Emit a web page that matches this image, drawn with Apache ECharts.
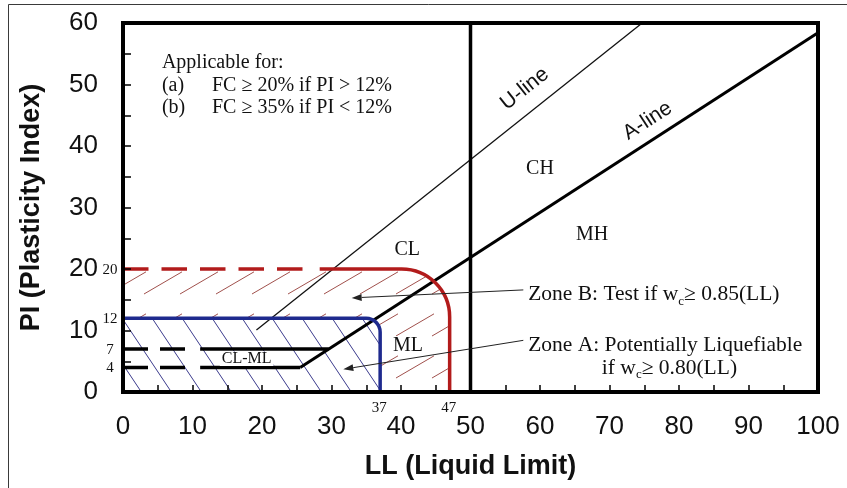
<!DOCTYPE html>
<html>
<head>
<meta charset="utf-8">
<title>Plasticity chart – liquefaction susceptibility zones</title>
<script src="https://cdn.jsdelivr.net/npm/echarts@6.0.0/dist/echarts.min.js"></script>
<style>
  html, body { margin: 0; padding: 0; background: #fff; }
  #chart { width: 847px; height: 488px; }
</style>
</head>
<body>
<div id="chart"></div>
<script>
// ---------- values: (LL, PI) pairs ----------
const llRange = [0, 100];
const piRange = [0, 60];
const aLine = [[25.5, 4], [100, 58.4]];
const uLine = [[19.2, 10.1], [74.7, 60]];
const llDivide = [[50, 0], [50, 60]];
const clmlTopDash = [[0, 7], [9.2, 7]];
const clmlTop = [[11.1, 7], [29.6, 7]];
const clmlBottomDash = [[0, 4], [9.2, 4]];
const clmlBottom = [[11.1, 4], [25.5, 4]];
const zoneBDash = [[0, 20], [25.9, 20]];
const zoneBEdge = [[28.3, 20], [47, 20], [47, 0]];
const zoneAEdge = [[0, 12], [37, 12], [37, 0]];
const zoneBArea = [[0, 0], [0, 20], [47, 20], [47, 0]];
const zoneAArea = [[0, 0], [0, 12], [37, 12], [37, 0]];
const piMarks = [20, 12, 7, 4];
const llMarks = [37, 47];

// ---------- annotation text ----------
const SERIF = '"Liberation Serif", "Times New Roman", serif';
const SANS = '"Liberation Sans", Arial, sans-serif';
const textStyles = {
  body: { size: 20, family: SERIF },
  zone: { size: 21.5, family: SERIF },
  soil: { size: 20, family: SERIF },
  dual: { size: 16, family: SERIF },
  mark: { size: 15, family: SERIF },
  line: { size: 21, family: SANS }
};
// parts at odd positions are set as subscripts
const notes = [
  { parts: ['Applicable for:'], at: [5.6, 53.5], style: 'body', align: 'left' },
  { parts: ['(a)'], at: [5.6, 49.8], style: 'body', align: 'left' },
  { parts: ['FC ≥ 20% if PI > 12%'], at: [12.8, 49.8], style: 'body', align: 'left' },
  { parts: ['(b)'], at: [5.6, 46.3], style: 'body', align: 'left' },
  { parts: ['FC ≥ 35% if PI < 12%'], at: [12.8, 46.3], style: 'body', align: 'left' },
  { parts: ['U-line'], at: [57.8, 49.3], style: 'line', rotate: 38.5 },
  { parts: ['A-line'], at: [75.5, 44.1], style: 'line', rotate: 33 },
  { parts: ['CH'], at: [60, 36.3], style: 'soil' },
  { parts: ['MH'], at: [67.5, 25.5], style: 'soil' },
  { parts: ['CL'], at: [40.9, 23.1], style: 'soil' },
  { parts: ['ML'], at: [41.0, 7.6], style: 'soil', bg: true },
  { parts: ['CL-ML'], at: [17.8, 5.4], style: 'dual', bg: true },
  { parts: ['Zone B: Test if w', 'c', '≥ 0.85(LL)'], at: [58.3, 15.8], style: 'zone', align: 'left' },
  { parts: ['Zone A: Potentially Liquefiable'], at: [58.3, 7.6], style: 'zone', align: 'left' },
  { parts: ['if w', 'c', '≥ 0.80(LL)'], at: [68.9, 3.9], style: 'zone', align: 'left' }
];
const arrows = [
  { from: [57.6, 16.6], to: [32.9, 15.3] },
  { from: [57.6, 8.4], to: [31.7, 3.7] }
];

// ---------- helpers ----------
const measureCtx = document.createElement('canvas').getContext('2d');
function textWidth(str, font) { measureCtx.font = font; return measureCtx.measureText(str).width; }

// Repeating hatch tiles used as fills
function redHatch() {
  const W = 72, H = 42, D = Math.hypot(W, H);
  const c = document.createElement('canvas');
  c.width = W; c.height = H;
  const g = c.getContext('2d');
  g.strokeStyle = '#a0504c';
  g.lineWidth = 1;
  g.setLineDash([44, D - 44]);
  for (let k = -2; k <= 6; k++) {
    const off = k * H / 2;
    g.lineDashOffset = (Math.abs(k) % 2) ? D / 2 : 0;
    g.beginPath();
    g.moveTo(0, off);
    g.lineTo(W, off - H);
    g.stroke();
  }
  return { image: c, repeat: 'repeat' };
}
function blueHatch() {
  const W = 30, H = 45;
  const c = document.createElement('canvas');
  c.width = W; c.height = H;
  const g = c.getContext('2d');
  g.fillStyle = '#ffffff';
  g.fillRect(0, 0, W, H);
  g.strokeStyle = '#3a3a8c';
  g.lineWidth = 1;
  for (let k = -1; k <= 1; k++) {
    g.beginPath();
    g.moveTo(k * W, 0);
    g.lineTo((k + 1) * W, H);
    g.stroke();
  }
  return { image: c, repeat: 'repeat' };
}

// SVG path through pixel points, rounding the vertex at cornerIdx with radius r
function roundedPath(pts, cornerIdx, r, close) {
  const k = 0.5523;
  let d = '';
  pts.forEach((p, i) => {
    const cmd = i === 0 ? 'M' : 'L';
    if (i === cornerIdx) {
      const a = pts[i - 1], b = pts[(i + 1) % pts.length];
      const l1 = Math.hypot(p[0] - a[0], p[1] - a[1]);
      const l2 = Math.hypot(b[0] - p[0], b[1] - p[1]);
      const d1 = [(p[0] - a[0]) / l1, (p[1] - a[1]) / l1];
      const d2 = [(b[0] - p[0]) / l2, (b[1] - p[1]) / l2];
      const s = [p[0] - d1[0] * r, p[1] - d1[1] * r];
      const e = [p[0] + d2[0] * r, p[1] + d2[1] * r];
      const c1 = [s[0] + d1[0] * r * k, s[1] + d1[1] * r * k];
      const c2 = [e[0] - d2[0] * r * k, e[1] - d2[1] * r * k];
      d += `${cmd}${s[0]} ${s[1]} C${c1[0]} ${c1[1]} ${c2[0]} ${c2[1]} ${e[0]} ${e[1]} `;
    } else {
      d += `${cmd}${p[0]} ${p[1]} `;
    }
  });
  return close ? d + 'Z' : d;
}

function shapeSeries(name, points, corner, radius, close, style, z) {
  return {
    name, type: 'custom', coordinateSystem: 'cartesian2d', silent: true, z,
    data: [points[0]],
    renderItem(params, api) {
      const px = points.map(p => api.coord(p));
      return { type: 'path', shape: { pathData: roundedPath(px, corner, radius, close) }, style };
    }
  };
}

function lineSeries(name, data, color, width, dash, z) {
  return {
    name, type: 'line', data, silent: true, z,
    symbol: 'none', showSymbol: false,
    lineStyle: { color, width, type: dash || 'solid', cap: 'butt' }
  };
}

function textEl(text, x, y, font, align, fill) {
  return {
    type: 'text', x, y,
    style: {
      text, font, fill: fill || '#111',
      align: align, verticalAlign: 'middle',
      textAlign: align, textVerticalAlign: 'middle'
    }
  };
}

function noteElement(note, api) {
  const st = textStyles[note.style];
  const font = `${st.size}px ${st.family}`;
  const subFont = `${Math.round(st.size * 0.62)}px ${st.family}`;
  const p = api.coord(note.at);
  const widths = note.parts.map((s, i) => textWidth(s, i % 2 ? subFont : font));
  const total = widths.reduce((a, b) => a + b, 0);
  let x = note.align === 'left' ? 0 : -total / 2;
  const children = [];
  if (note.bg) {
    children.push({ type: 'rect', shape: { x: x - 2, y: -st.size * 0.45, width: total + 4, height: st.size * 0.9 }, style: { fill: '#fff' } });
  }
  note.parts.forEach((s, i) => {
    children.push(textEl(s, x, i % 2 ? st.size * 0.3 : 0, i % 2 ? subFont : font, 'left'));
    x += widths[i];
  });
  return { type: 'group', x: p[0], y: p[1], rotation: (note.rotate || 0) * Math.PI / 180, children };
}

function arrowElement(a, api) {
  const p0 = api.coord(a.from), p1 = api.coord(a.to);
  const dx = p1[0] - p0[0], dy = p1[1] - p0[1], len = Math.hypot(dx, dy);
  const ux = dx / len, uy = dy / len;
  const hl = 10, hw = 3.5;
  const base = [p1[0] - ux * hl, p1[1] - uy * hl];
  return {
    type: 'group', children: [
      { type: 'line', shape: { x1: p0[0], y1: p0[1], x2: base[0], y2: base[1] }, style: { stroke: '#222', lineWidth: 1 } },
      { type: 'polygon', shape: { points: [p1, [base[0] - uy * hw, base[1] + ux * hw], [base[0] + uy * hw, base[1] - ux * hw]] }, style: { fill: '#222' } }
    ]
  };
}

// ---------- chart ----------
const RED = '#b21b1b';
const BLUE = '#1e2a8e';
const tickFont = { fontFamily: SANS, fontSize: 26, color: '#111' };
const titleFont = { fontFamily: SANS, fontSize: 27, fontWeight: 'bold', color: '#111' };
const frameLine = { show: true, onZero: false, lineStyle: { color: '#000', width: 4, cap: 'square' } };

const chart = echarts.init(document.getElementById('chart'), null, { renderer: 'canvas' });

chart.setOption({
  animation: false,
  backgroundColor: '#fff',
  grid: { left: 123, right: 29, top: 23, bottom: 96 },
  graphic: [{
    type: 'rect', silent: true,
    shape: { x: 8.5, y: 4.5, width: 900, height: 600 },
    style: { fill: 'none', stroke: '#3a3a3a', lineWidth: 1 }
  }],
  xAxis: [{
    type: 'value', min: llRange[0], max: llRange[1], interval: 10, position: 'bottom', z: 10,
    name: 'LL (Liquid Limit)', nameLocation: 'middle', nameGap: 61, nameTextStyle: titleFont,
    axisLine: frameLine,
    axisTick: { show: true, inside: true, length: 7, lineStyle: { color: '#000', width: 1.5 } },
    minorTick: { show: true, splitNumber: 2, length: 7, lineStyle: { color: '#000', width: 1.5 } },
    axisLabel: Object.assign({ margin: 22 }, tickFont),
    splitLine: { show: false }, minorSplitLine: { show: false }
  }, {
    type: 'value', min: llRange[0], max: llRange[1], position: 'top', z: 10,
    axisLine: frameLine, axisTick: { show: false }, axisLabel: { show: false }, splitLine: { show: false }
  }],
  yAxis: [{
    type: 'value', min: piRange[0], max: piRange[1], interval: 10, position: 'left', z: 10,
    name: 'PI (Plasticity Index)', nameLocation: 'middle', nameGap: 78, nameTextStyle: titleFont,
    axisLine: frameLine,
    axisTick: { show: true, inside: true, length: 8, lineStyle: { color: '#000', width: 1.5 } },
    minorTick: { show: true, splitNumber: 2, length: 8, lineStyle: { color: '#000', width: 1.5 } },
    axisLabel: Object.assign({ margin: 25 }, tickFont),
    splitLine: { show: false }, minorSplitLine: { show: false }
  }, {
    type: 'value', min: piRange[0], max: piRange[1], position: 'right', z: 10,
    axisLine: frameLine, axisTick: { show: false }, axisLabel: { show: false }, splitLine: { show: false }
  }],
  series: [
    // hatched zones
    shapeSeries('zoneBFill', zoneBArea, 2, 48, true, { fill: redHatch(), stroke: null }, 1),
    shapeSeries('zoneAFill', zoneAArea, 2, 14, true, { fill: blueHatch(), stroke: null }, 1),

    // classification lines
    lineSeries('U-line', uLine, '#111', 1.3, null, 3),
    lineSeries('A-line', aLine, '#000', 3, null, 3),
    lineSeries('LL50', llDivide, '#000', 3.5, null, 3),
    lineSeries('PI7dash', clmlTopDash, '#000', 3.5, [25, 12], 3),
    lineSeries('PI7', clmlTop, '#000', 3.5, null, 3),
    lineSeries('PI4dash', clmlBottomDash, '#000', 3.5, [25, 12], 3),
    lineSeries('PI4', clmlBottom, '#000', 3.5, null, 3),

    // zone boundaries
    lineSeries('zoneBDash', zoneBDash, RED, 3.5, [25.5, 13], 4),
    shapeSeries('zoneBEdge', zoneBEdge, 1, 48, false, { fill: null, stroke: RED, lineWidth: 3.5 }, 4),
    shapeSeries('zoneAEdge', zoneAEdge, 1, 14, false, { fill: null, stroke: BLUE, lineWidth: 3.5 }, 4),

    // arrows and text
    {
      name: 'arrows', type: 'custom', coordinateSystem: 'cartesian2d', silent: true, z: 5,
      data: arrows.map(a => a.to),
      renderItem: (params, api) => arrowElement(arrows[params.dataIndex], api)
    },
    {
      name: 'notes', type: 'custom', coordinateSystem: 'cartesian2d', silent: true, z: 6,
      data: notes.map(n => n.at),
      renderItem: (params, api) => noteElement(notes[params.dataIndex], api)
    },
    {
      name: 'piMarks', type: 'custom', coordinateSystem: 'cartesian2d', silent: true, z: 6,
      data: piMarks.map(v => [0, v]),
      renderItem: (params, api) => {
        const p = api.coord([0, piMarks[params.dataIndex]]);
        const st = textStyles.mark;
        return textEl(String(piMarks[params.dataIndex]), p[0] - 13, p[1] + 1, `${st.size}px ${st.family}`, 'center');
      }
    },
    {
      name: 'llMarks', type: 'custom', coordinateSystem: 'cartesian2d', silent: true, z: 6,
      data: llMarks.map(v => [v, 0]),
      renderItem: (params, api) => {
        const p = api.coord([llMarks[params.dataIndex], 0]);
        const st = textStyles.mark;
        return textEl(String(llMarks[params.dataIndex]), p[0] - 1, p[1] + 16, `${st.size}px ${st.family}`, 'center');
      }
    }
  ]
});
</script>
</body>
</html>
